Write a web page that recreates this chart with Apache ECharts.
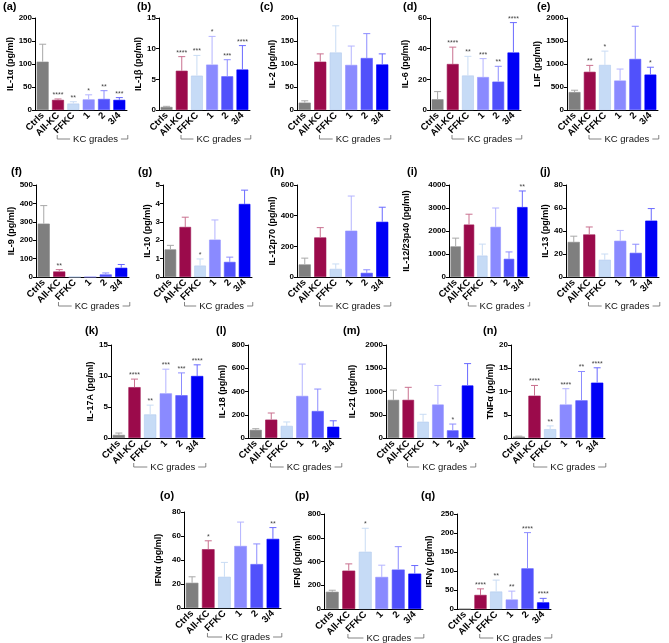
<!DOCTYPE html>
<html><head><meta charset="utf-8">
<script src="https://cdn.jsdelivr.net/npm/echarts@6/dist/echarts.min.js"></script>
<style>html,body{margin:0;padding:0;background:#fff}#c{width:669px;height:643px}</style>
</head><body><div id="c"></div>
<script>
// ---------- data ----------
const categories = ['Ctrls', 'All-KC', 'FFKC', '1', '2', '3/4'];
const groupLabel = 'KC grades';
const panelLetters = ['(a)','(b)','(c)','(d)','(e)','(f)','(g)','(h)','(i)','(j)','(k)','(l)','(m)','(n)','(o)','(p)','(q)'];
const yNames = ['IL-1α (pg/ml)','IL-1β (pg/ml)','IL-2 (pg/ml)','IL-6 (pg/ml)','LIF (pg/ml)',
  'IL-9 (pg/ml)','IL-10 (pg/ml)','IL-12p70 (pg/ml)','IL-12/23p40 (pg/ml)','IL-13 (pg/ml)',
  'IL-17A (pg/ml)','IL-18 (pg/ml)','IL-21 (pg/ml)','TNFα (pg/ml)',
  'IFNα (pg/ml)','IFNβ (pg/ml)','IFNγ (pg/ml)'];
const yMax      = [200, 15, 200, 60, 2000, 500, 5, 600, 4000, 80, 15, 800, 2000, 20, 80, 800, 250];
const yInterval = [50, 5, 50, 20, 500, 100, 1, 200, 1000, 20, 5, 200, 500, 5, 20, 200, 50];

const il1a_mean = [105, 22, 14, 23, 24, 22];
const il1a_sd   = [38, 2, 4, 10, 18, 5];
const il1a_sig  = ['', '****', '**', '*', '**', '***'];
const il1b_mean = [0.5, 6.4, 5.6, 7.4, 5.5, 6.6];
const il1b_sd   = [0.1, 2.3, 3.3, 4.6, 2.7, 3.9];
const il1b_sig  = ['', '****', '***', '*', '***', '****'];
const il2_mean  = [16, 105, 125, 98, 113, 99];
const il2_sd    = [4, 17, 58, 41, 53, 23];
const il2_sig   = ['', '', '', '', '', ''];
const il6_mean  = [7, 30, 22.5, 21.5, 18.5, 37.5];
const il6_sd    = [5, 11, 12.5, 12, 10, 19.5];
const il6_sig   = ['', '****', '**', '***', '**', '****'];
const lif_mean  = [390, 830, 980, 640, 1110, 770];
const lif_sd    = [40, 140, 300, 250, 710, 160];
const lif_sig   = ['', '**', '*', '', '', '*'];
const il9_mean  = [290, 30, 0, 0, 14, 50];
const il9_sd    = [98, 10, 0, 0, 8, 18];
const il9_sig   = ['', '**', '', '', '', ''];
const il10_mean = [1.5, 2.72, 0.62, 2.03, 0.82, 3.97];
const il10_sd   = [0.22, 0.53, 0.36, 1.07, 0.26, 0.75];
const il10_sig  = ['', '', '*', '', '', ''];
const il12p70_mean = [82, 258, 53, 302, 27, 360];
const il12p70_sd   = [41, 64, 32, 226, 20, 95];
const il12p70_sig  = ['', '', '', '', '', ''];
const il1223_mean = [1330, 2280, 930, 2180, 790, 3040];
const il1223_sd   = [360, 450, 500, 820, 300, 700];
const il1223_sig  = ['', '', '', '', '', '**'];
const il13_mean = [30.5, 37, 15, 31.5, 21, 49];
const il13_sd   = [5, 6.5, 5, 9, 7.5, 10.5];
const il13_sig  = ['', '', '', '', '', ''];
const il17_mean = [0.5, 8.2, 3.8, 7.2, 6.9, 10];
const il17_sd   = [0.3, 1.3, 1.5, 3.9, 3.6, 1.8];
const il17_sig  = ['', '****', '**', '***', '***', '****'];
const il18_mean = [70, 158, 104, 362, 232, 97];
const il18_sd   = [10, 57, 34, 274, 189, 51];
const il18_sig  = ['', '', '', '', '', ''];
const il21_mean = [820, 820, 350, 720, 165, 1130];
const il21_sd   = [210, 270, 160, 410, 135, 470];
const il21_sig  = ['', '', '', '', '*', ''];
const tnfa_mean = [0.3, 9.1, 1.9, 7.2, 8.1, 11.9];
const tnfa_sd   = [0.1, 2.2, 0.7, 3.4, 6.2, 3.2];
const tnfa_sig  = ['', '****', '**', '****', '**', '****'];
const ifna_mean = [21, 49, 26, 51.7, 36.6, 57.6];
const ifna_sd   = [5, 7, 12, 19.9, 16.8, 9.4];
const ifna_sig  = ['', '*', '', '', '', '**'];
const ifnb_mean = [145, 323, 482, 270, 332, 298];
const ifnb_sd   = [13, 57, 198, 99, 193, 68];
const ifnb_sig  = ['', '', '*', '', '', ''];
const ifng_mean = [0, 37, 46, 25, 107, 17.5];
const ifng_sd   = [0, 16, 30, 22, 94, 10.5];
const ifng_sig  = ['', '****', '**', '**', '****', '****'];

const panelMeans = [il1a_mean, il1b_mean, il2_mean, il6_mean, lif_mean, il9_mean, il10_mean, il12p70_mean, il1223_mean, il13_mean, il17_mean, il18_mean, il21_mean, tnfa_mean, ifna_mean, ifnb_mean, ifng_mean];
const panelSds   = [il1a_sd, il1b_sd, il2_sd, il6_sd, lif_sd, il9_sd, il10_sd, il12p70_sd, il1223_sd, il13_sd, il17_sd, il18_sd, il21_sd, tnfa_sd, ifna_sd, ifnb_sd, ifng_sd];
const panelSigs  = [il1a_sig, il1b_sig, il2_sig, il6_sig, lif_sig, il9_sig, il10_sig, il12p70_sig, il1223_sig, il13_sig, il17_sig, il18_sig, il21_sig, tnfa_sig, ifna_sig, ifnb_sig, ifng_sig];

// ---------- styling / layout ----------
const FONT = '"Liberation Sans", Arial, sans-serif';
const barColors = ['#7f7f7f', '#9b0a4b', '#c6dbf6', '#8a8aff', '#5151fb', '#0000f5'];
const barBorders = ['#8a8a8a', '#a01a55', '#b3cbef', '#9494ff', '#5c5cff', '#0000ff'];
const errColors = ['#a8a8a8', '#c9708f', '#c9dcf4', '#b4b4ff', '#8c8cff', '#6a6aff'];
// [left, top, width, height, nameGap, letterX, letterY]
const layout = [
  [35, 18, 92, 92, 17, 3, 7],
  [159, 18, 91, 92, 14, 137, 7],
  [297, 18, 93, 92, 19, 260, 7],
  [430, 18, 91, 92, 20, 403, 7],
  [567, 18, 91, 92, 14, 537, 7],
  [36, 185, 93, 92, 19, 11, 172],
  [163, 185, 89, 92, 11, 138, 172],
  [297, 185, 93, 92, 19, 270, 172],
  [449, 185, 80, 92, 38, 407, 172],
  [566, 185, 93, 92, 12, 540, 172],
  [111, 345, 94, 93, 14, 85, 331],
  [248, 345, 93, 93, 21, 216, 331],
  [386, 345, 89, 93, 29, 343, 331],
  [511, 345, 94, 93, 16, 483, 331],
  [184, 512, 97, 96, 21, 160, 496],
  [324, 514, 99, 95, 22, 295, 496],
  [457, 514, 94, 95, 23, 421, 496]
];

const grids = [], xAxes = [], yAxes = [], series = [], graphics = [];

function makeRender(sig) {
  return function (params, api) {
    const i = api.value(0), m = api.value(1), t = api.value(2);
    const base = api.coord([i, m]);
    const top = api.coord([i, t]);
    const w = 3.5;
    const col = errColors[i];
    const children = [];
    if (t > m) {
      children.push({ type: 'line', shape: { x1: base[0], y1: base[1], x2: top[0], y2: top[1] }, style: { stroke: col, lineWidth: 1 } });
      children.push({ type: 'line', shape: { x1: top[0] - w, y1: top[1], x2: top[0] + w, y2: top[1] }, style: { stroke: col, lineWidth: 1 } });
    }
    if (sig[i]) {
      children.push({ type: 'text', x: top[0], y: top[1] - 0.5, style: { text: sig[i], align: 'center', verticalAlign: 'bottom', fontSize: 7, fill: '#444', fontFamily: FONT } });
    }
    return { type: 'group', children };
  };
}

layout.forEach((L, k) => {
  grids.push({ left: L[0], top: L[1], width: L[2], height: L[3] });
  xAxes.push({
    type: 'category', gridIndex: k, data: categories,
    axisLine: { lineStyle: { color: '#000', width: 1 } },
    axisTick: { alignWithLabel: true, length: 3, lineStyle: { color: '#000' } },
    axisLabel: { rotate: 45, interval: 0, margin: 4, fontSize: 9.5, fontWeight: 'bold', color: '#000', fontFamily: FONT }
  });
  yAxes.push({
    type: 'value', gridIndex: k, min: 0, max: yMax[k], interval: yInterval[k],
    name: yNames[k], nameLocation: 'middle', nameGap: L[4],
    nameTextStyle: { fontSize: 9, fontWeight: 'bold', color: '#000', fontFamily: FONT },
    axisLine: { show: true, lineStyle: { color: '#000', width: 1 } },
    axisTick: { show: true, length: 3, lineStyle: { color: '#000' } },
    axisLabel: { fontSize: 8, fontWeight: 'bold', color: '#000', margin: 3, fontFamily: FONT, formatter: v => String(v) },
    splitLine: { show: false }
  });
  const mean = panelMeans[k], sd = panelSds[k];
  series.push({
    type: 'bar', xAxisIndex: k, yAxisIndex: k, barWidth: '78%',
    data: mean.map((v, i) => ({ value: v, itemStyle: { color: barColors[i], borderColor: barBorders[i], borderWidth: 0.6 } }))
  });
  series.push({
    type: 'custom', xAxisIndex: k, yAxisIndex: k, clip: false, z: 3,
    renderItem: makeRender(panelSigs[k]),
    encode: { x: 0, y: [1, 2] },
    data: mean.map((v, i) => [i, v, v + sd[i]])
  });
  graphics.push({ type: 'text', x: L[5], y: L[6], style: { text: panelLetters[k], fontSize: 11, fontWeight: 'bold', fill: '#000', fontFamily: FONT, verticalAlign: 'middle' } });
});

const chart = echarts.init(document.getElementById('c'), null, { renderer: 'canvas' });
chart.setOption({ animation: false, grid: grids, xAxis: xAxes, yAxis: yAxes, series: series });

// "KC grades" brackets, placed from the axis scales
const ctx = document.createElement('canvas').getContext('2d');
ctx.font = '9.5px ' + FONT;
const tw = ctx.measureText(groupLabel).width;
layout.forEach((L, k) => {
  const pF = chart.convertToPixel({ gridIndex: k }, [2, 0]);
  const pE = chart.convertToPixel({ gridIndex: k }, [5, 0]);
  const cw = (pE[0] - pF[0]) / 3;
  const x1 = pF[0] - 1.05 * cw, x2 = pE[0] + 0.55 * cw, y = pF[1] + 29;
  const cx = (x1 + x2) / 2 + 3;
  const ls = { stroke: '#666', lineWidth: 0.8 };
  graphics.push({ type: 'polyline', shape: { points: [[x1, y - 4], [x1, y], [cx - tw / 2 - 3, y]] }, style: ls, silent: true });
  graphics.push({ type: 'polyline', shape: { points: [[cx + tw / 2 + 3, y], [x2, y], [x2, y - 4]] }, style: ls, silent: true });
  graphics.push({ type: 'text', x: cx, y: y, style: { text: groupLabel, fontSize: 9.5, fill: '#111', fontFamily: FONT, align: 'center', verticalAlign: 'middle' } });
});
chart.setOption({ graphic: graphics });
</script></body></html>
